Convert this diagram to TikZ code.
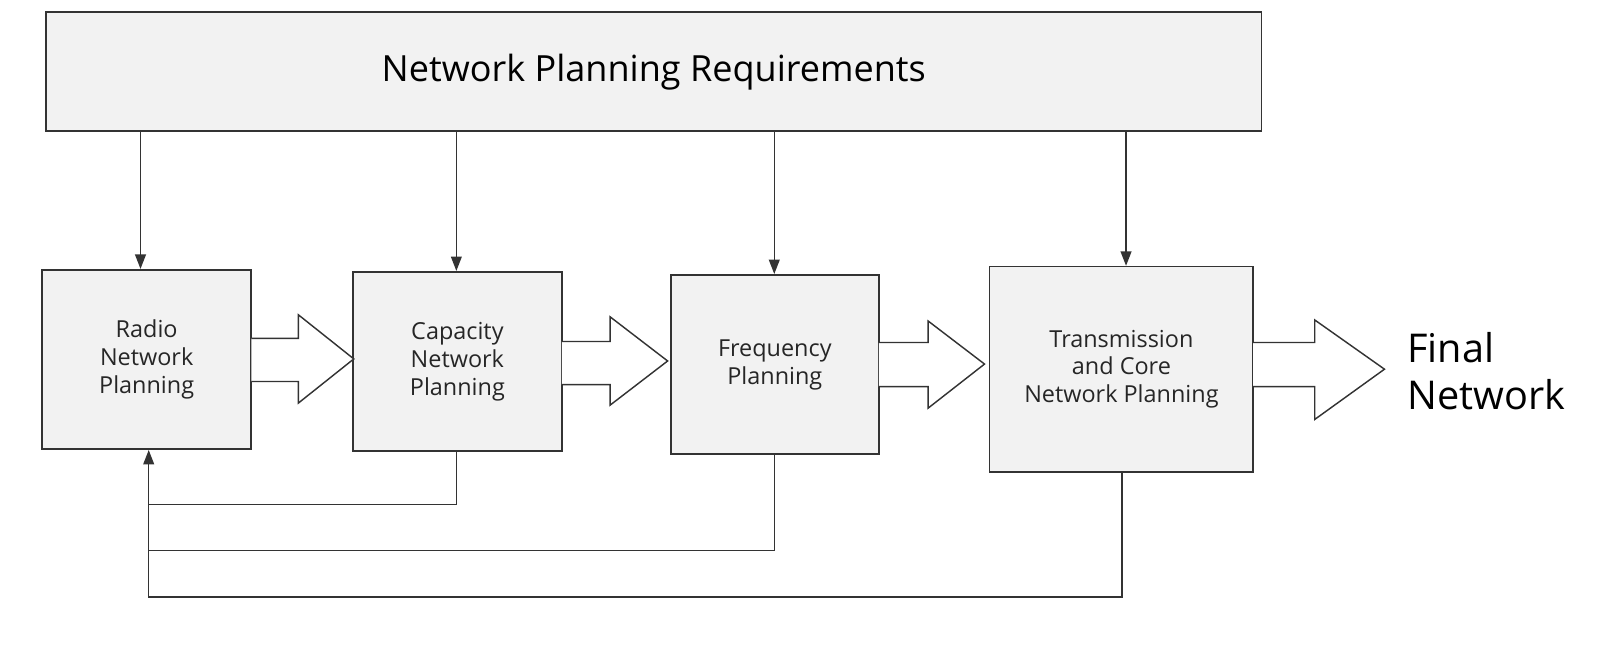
\documentclass[tikz,border=0pt]{standalone}
\usepackage{fontspec}
\setmainfont{Open Sans}
\usetikzlibrary{arrows.meta}
\definecolor{boxfill}{HTML}{F2F2F2}
\begin{document}
\begin{tikzpicture}[x=0.02cm,y=-0.02cm,
  box/.style={draw=black!80,fill=boxfill,line width=0.9pt,inner sep=0pt,align=center,font=\fontsize{13}{15.5}\selectfont\color{black!85}},
  con/.style={draw=black!80,line width=0.8pt},
  arr/.style={con,-{Triangle[length=8pt,width=6pt]}},
  fat/.style={draw=black!80,fill=white,line width=0.8pt}]
\useasboundingbox (0,0) rectangle (1567,634);
\node[box,minimum width=1185*0.02cm,minimum height=116*0.02cm,font=\fontsize{20}{24}\selectfont] (req) at (637.5,70) {Network Planning Requirements};
\node[box,minimum width=204*0.02cm,minimum height=175*0.02cm] (radio) at (143,350.5) {Radio\\Network\\Planning};
\node[box,minimum width=204*0.02cm,minimum height=175*0.02cm] (cap) at (446,352.5) {Capacity\\Network\\Planning};
\node[box,minimum width=203*0.02cm,minimum height=175*0.02cm] (freq) at (755.5,355.5) {Frequency\\Planning};
\node[box,minimum width=257*0.02cm,minimum height=200*0.02cm] (trans) at (1093.5,360) {Transmission\\and Core\\Network Planning};
\node[align=left,font=\fontsize{22}{26}\selectfont,anchor=west,inner sep=0pt] (final) at (1372,362) {Final\\Network};
% fat arrows
\draw[fat] (245,330) -- (291,330) -- (291,307) -- (345,350) -- (291,393) -- (291,372) -- (245,372);
\draw[fat] (548,333) -- (595,333) -- (595,309) -- (651,352) -- (595,395) -- (595,375) -- (548,375);
\draw[fat] (857,334) -- (905,334) -- (905,313) -- (960,355) -- (905,398) -- (905,377) -- (857,377);
\draw[fat] (1222,334) -- (1282,334) -- (1282,312) -- (1350,360) -- (1282,409) -- (1282,377) -- (1222,377);
% down arrows
\draw[arr] (req.south -| 137,0) -- (radio.north -| 137,0);
\draw[arr] (req.south -| 445,0) -- (cap.north -| 445,0);
\draw[arr] (req.south -| 755,0) -- (freq.north -| 755,0);
\draw[arr] (req.south -| 1098,0) -- (trans.north -| 1098,0);
% feedback
\coordinate (fb) at (145,0);
\draw[arr] (cap.south -| 445,0) |- (145,492) -- (radio.south -| fb);
\draw[con] (freq.south -| 755,0) |- (145,537) -- (145,492);
\draw[con] (trans.south -| 1094,0) |- (145,582) -- (145,537);
\end{tikzpicture}
\end{document}
